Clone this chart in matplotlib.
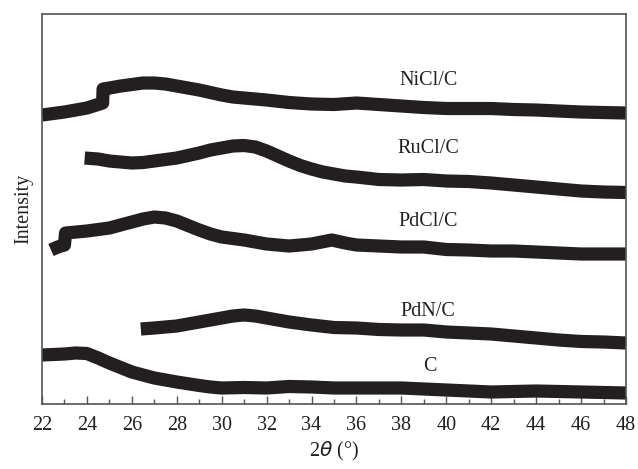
import matplotlib.pyplot as plt
from matplotlib.ticker import MultipleLocator

plt.rcParams["font.family"] = ["Liberation Serif", "DejaVu Serif"]

# intensity (arbitrary units, offset stacked)
two_theta_nicl = [22.0, 23.0, 24.0, 24.7, 24.72, 25, 25.5, 26, 26.5, 27, 27.5, 28, 28.5, 29,
                  29.5, 30, 30.5, 31, 32, 33, 34, 35, 36, 37, 38, 39, 40, 41, 42, 43, 44,
                  45, 46, 47, 48]
nicl = [289, 292, 296, 301, 315, 316, 318, 319.5, 321, 321, 320, 318, 316, 314,
        311.5, 309, 307, 306, 304, 301.5, 300, 299.5, 301, 299.5, 298, 296.5, 295.5, 295.5,
        295.5, 294.5, 294, 293, 292, 291.5, 291]

two_theta_rucl = [23.9, 24.5, 25, 25.5, 26, 26.5, 27, 27.5, 28, 28.5, 29, 29.5, 30, 30.5, 31,
                  31.5, 32, 32.5, 33, 33.5, 34, 34.5, 35, 35.5, 36, 37, 38, 39, 40, 41, 42,
                  43, 44, 45, 46, 47, 48]
rucl = [246, 245, 243, 242, 241, 241.5, 243, 244.5, 246, 248.5, 251, 254, 256, 258, 258.5,
        257, 253, 248, 243, 238.5, 235, 232, 230, 228, 227, 224.5, 224, 224.5, 223, 222.5,
        221, 219, 217, 215, 213, 212, 211.5]

two_theta_pdcl = [22.4, 22.7, 23.0, 23.05, 24, 25, 25.5, 26, 26.5, 27, 27.5, 28, 28.5, 29,
                  29.5, 30, 31, 32, 33, 34, 34.9, 35.5, 36, 37, 38, 39, 40, 41, 42, 43, 44,
                  45, 46, 47, 48]
pdcl = [154, 157, 159, 171, 173, 176, 179, 182, 185, 187, 186, 183, 178.5, 174,
        170, 167, 164, 160, 158, 160, 164, 161, 159, 158, 157, 157, 154.5, 154, 153, 153,
        152, 151, 150, 150, 150]

two_theta_pdn = [26.4, 27, 28, 28.5, 29, 29.5, 30, 30.5, 31, 31.5, 32, 32.5, 33, 34, 35, 36,
                 37, 38, 39, 40, 41, 42, 43, 44, 45, 46, 47, 48]
pdn = [75, 76, 78, 80, 82, 84, 86, 88, 89, 88, 86, 84, 82, 79, 76.5, 76, 74.5, 74, 74,
       72, 71, 70, 68, 66, 64, 62.5, 62, 61]

two_theta_c = [22.0, 23, 23.5, 24, 24.5, 25, 25.5, 26, 26.5, 27, 28, 29, 29.5, 30, 31, 32,
               33, 34, 35, 36, 37, 38, 39, 40, 41, 42, 43, 44, 45, 46, 47, 48]
c = [49, 50, 51, 50.5, 46, 41, 36.5, 32, 29, 26, 22, 18.5, 17, 16, 16.5, 16, 17.5, 17, 16,
     16, 16, 16, 15, 14, 13, 12, 12.5, 13, 12.5, 12, 11.5, 11]

labels = ["NiCl/C", "RuCl/C", "PdCl/C", "PdN/C", "C"]
label_x = [39.2, 39.2, 39.2, 39.2, 39.27]
label_y = [324, 256, 183, 93, 37]

fig = plt.figure(figsize=(6.38, 4.69), dpi=100)
ax = fig.add_axes([0.0658, 0.1386, 0.9154, 0.8315])

for xs, ys in [(two_theta_nicl, nicl), (two_theta_rucl, rucl), (two_theta_pdcl, pdcl),
               (two_theta_pdn, pdn), (two_theta_c, c)]:
    ax.plot(xs, ys, color="#231f20", lw=9.5, solid_capstyle="butt", solid_joinstyle="round")

for lab, lx, ly in zip(labels, label_x, label_y):
    ax.text(lx, ly, lab, ha="center", va="center", fontsize=14.5, color="#231f20")

ax.set_xlim(22, 48)
ax.set_ylim(0, 390)
ax.xaxis.set_major_locator(MultipleLocator(2))
ax.xaxis.set_minor_locator(MultipleLocator(1))
ax.tick_params(axis="x", which="major", direction="in", length=6, width=1, colors="#555555",
               labelcolor="#231f20", labelsize=14.5, pad=9)
ax.tick_params(axis="x", which="minor", direction="in", length=3.5, width=1, colors="#555555")
ax.set_yticks([])
for sp in ax.spines.values():
    sp.set_color("#555555")
    sp.set_linewidth(1.2)

ax.set_xlabel(r"2$\it{\theta}$ (°)", fontsize=14.5, color="#231f20", labelpad=3)
ax.set_ylabel("Intensity", fontsize=14.5, color="#231f20", labelpad=6)

plt.savefig("out.png", dpi=100)
